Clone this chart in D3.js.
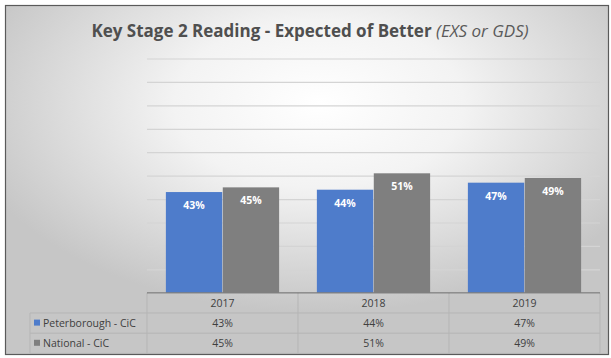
<!DOCTYPE html>
<html>
<head>
<meta charset="utf-8">
<script src="https://cdn.jsdelivr.net/npm/d3@7"></script>
<style>
  html, body { margin: 0; padding: 0; background: #fff; }
  svg { display: block; }
</style>
</head>
<body>
<svg id="chart" width="611" height="358"></svg>
<script>
// Chart data
const years = ["2017", "2018", "2019"];
const seriesNames = ["Peterborough - CiC", "National - CiC"];
const peterborough = [0.43, 0.44, 0.47];
const national = [0.45, 0.51, 0.49];
const seriesColors = ["#4e7ccb", "#7f7f7f"];
const yTicks = [0, 0.1, 0.2, 0.3, 0.4, 0.5, 0.6, 0.7, 0.8, 0.9, 1.0];

const seriesValues = [peterborough, national];
const fmt = d3.format(".0%");

const svg = d3.select("#chart");

// Background gradient of the chart panel
const defs = svg.append("defs");
const grad = defs.append("radialGradient")
  .attr("id", "panelBg")
  .attr("cx", "52%").attr("cy", "28%").attr("r", "60%");
grad.append("stop").attr("offset", "0%").attr("stop-color", "#ffffff");
grad.append("stop").attr("offset", "40%").attr("stop-color", "#f3f3f3");
grad.append("stop").attr("offset", "100%").attr("stop-color", "#c6c6c6");

svg.append("rect")
  .attr("x", 5.5).attr("y", 5.5)
  .attr("width", 603).attr("height", 349)
  .attr("fill", "url(#panelBg)")
  .attr("stroke", "#5a5a5a").attr("stroke-width", 1.2);

// Title
const title = svg.append("text")
  .attr("x", 310).attr("y", 37)
  .attr("text-anchor", "middle")
  .attr("font-family", "'Open Sans', 'Liberation Sans', sans-serif")
  .attr("font-size", 17)
  .attr("fill", "#4f4f4f");
title.append("tspan").attr("font-weight", "bold").text("Key Stage 2 Reading - Expected of Better ");
title.append("tspan").attr("font-style", "italic").attr("fill", "#5a5a5a").text("(EXS or GDS)");

// Plot area
const plot = { left: 147, right: 600, top: 58.5, bottom: 292.8 };

const x = d3.scaleBand()
  .domain(years)
  .range([plot.left, plot.right])
  .paddingInner(0.25)
  .paddingOuter(0.125);

const xs = d3.scaleBand()
  .domain(seriesNames)
  .range([0, x.bandwidth()])
  .paddingInner(0.01);

const y = d3.scaleLinear()
  .domain([0, 1])
  .range([plot.bottom, plot.top]);

// Gridlines
const grid = svg.append("g")
  .attr("transform", `translate(${plot.left},0)`)
  .call(d3.axisLeft(y).tickValues(yTicks).tickSize(-(plot.right - plot.left)).tickFormat(""));
grid.select(".domain").remove();
grid.selectAll(".tick line")
  .attr("stroke", "#d4d4d4")
  .attr("stroke-width", 1.2);

// Bars
const groups = svg.append("g").selectAll("g")
  .data(years)
  .join("g")
  .attr("transform", d => `translate(${x(d)},0)`);

const cells = (d, i) => seriesNames.map((s, j) => ({ s, j, v: seriesValues[j][i] }));

groups.selectAll("rect")
  .data(cells)
  .join("rect")
  .attr("x", d => xs(d.s))
  .attr("y", d => y(d.v))
  .attr("width", xs.bandwidth())
  .attr("height", d => y(0) - y(d.v))
  .attr("fill", d => seriesColors[d.j]);

groups.selectAll("text")
  .data(cells)
  .join("text")
  .attr("x", d => xs(d.s) + xs.bandwidth() / 2)
  .attr("y", d => y(d.v) + 17)
  .attr("text-anchor", "middle")
  .attr("font-family", "'Open Sans', 'Liberation Sans', sans-serif")
  .attr("font-weight", "bold")
  .attr("font-size", 10.5)
  .attr("fill", "#ffffff")
  .text(d => fmt(d.v));

// Data table below the axis
const rowH = 20.2;
const tableLeft = 30;
const table = svg.append("g");
const lineColor = "#b5b5b5";

// row separators
for (let r = 1; r <= 3; r++) {
  const yy = plot.bottom + rowH * r;
  table.append("line")
    .attr("x1", tableLeft).attr("x2", plot.right)
    .attr("y1", yy).attr("y2", yy)
    .attr("stroke", lineColor).attr("stroke-width", 1);
}
// column separators
const colEdges = [plot.left, plot.left + x.step(), plot.left + 2 * x.step(), plot.right];
colEdges.forEach(cx => {
  table.append("line")
    .attr("x1", cx).attr("x2", cx)
    .attr("y1", plot.bottom).attr("y2", plot.bottom + rowH * 3)
    .attr("stroke", lineColor).attr("stroke-width", 1);
});
table.append("line")
  .attr("x1", tableLeft).attr("x2", tableLeft)
  .attr("y1", plot.bottom + rowH).attr("y2", plot.bottom + rowH * 3)
  .attr("stroke", lineColor).attr("stroke-width", 1);

// axis baseline
svg.append("line")
  .attr("x1", plot.left).attr("x2", plot.right)
  .attr("y1", plot.bottom).attr("y2", plot.bottom)
  .attr("stroke", "#7a7a7a").attr("stroke-width", 1.3);

const cellFont = "'Open Sans', 'Liberation Sans', sans-serif";
// header row
table.selectAll("text.year")
  .data(years)
  .join("text")
  .attr("class", "year")
  .attr("x", d => x(d) + x.bandwidth() / 2)
  .attr("y", plot.bottom + rowH * 0.5 + 4)
  .attr("text-anchor", "middle")
  .attr("font-family", cellFont)
  .attr("font-size", 10.5)
  .attr("fill", "#404040")
  .text(d => d);

// series rows
seriesNames.forEach((s, j) => {
  const cy = plot.bottom + rowH * (j + 1.5);
  table.append("rect")
    .attr("x", 34).attr("y", cy - 3.5)
    .attr("width", 6).attr("height", 6)
    .attr("fill", seriesColors[j]);
  table.append("text")
    .attr("x", 43).attr("y", cy + 4)
    .attr("font-family", cellFont)
    .attr("font-size", 10.5)
    .attr("fill", "#404040")
    .text(s);
  table.selectAll(null)
    .data(years)
    .join("text")
    .attr("x", d => x(d) + x.bandwidth() / 2)
    .attr("y", cy + 4)
    .attr("text-anchor", "middle")
    .attr("font-family", cellFont)
    .attr("font-size", 10.5)
    .attr("fill", "#404040")
    .text((d, i) => fmt(seriesValues[j][i]));
});
</script>
</body>
</html>
